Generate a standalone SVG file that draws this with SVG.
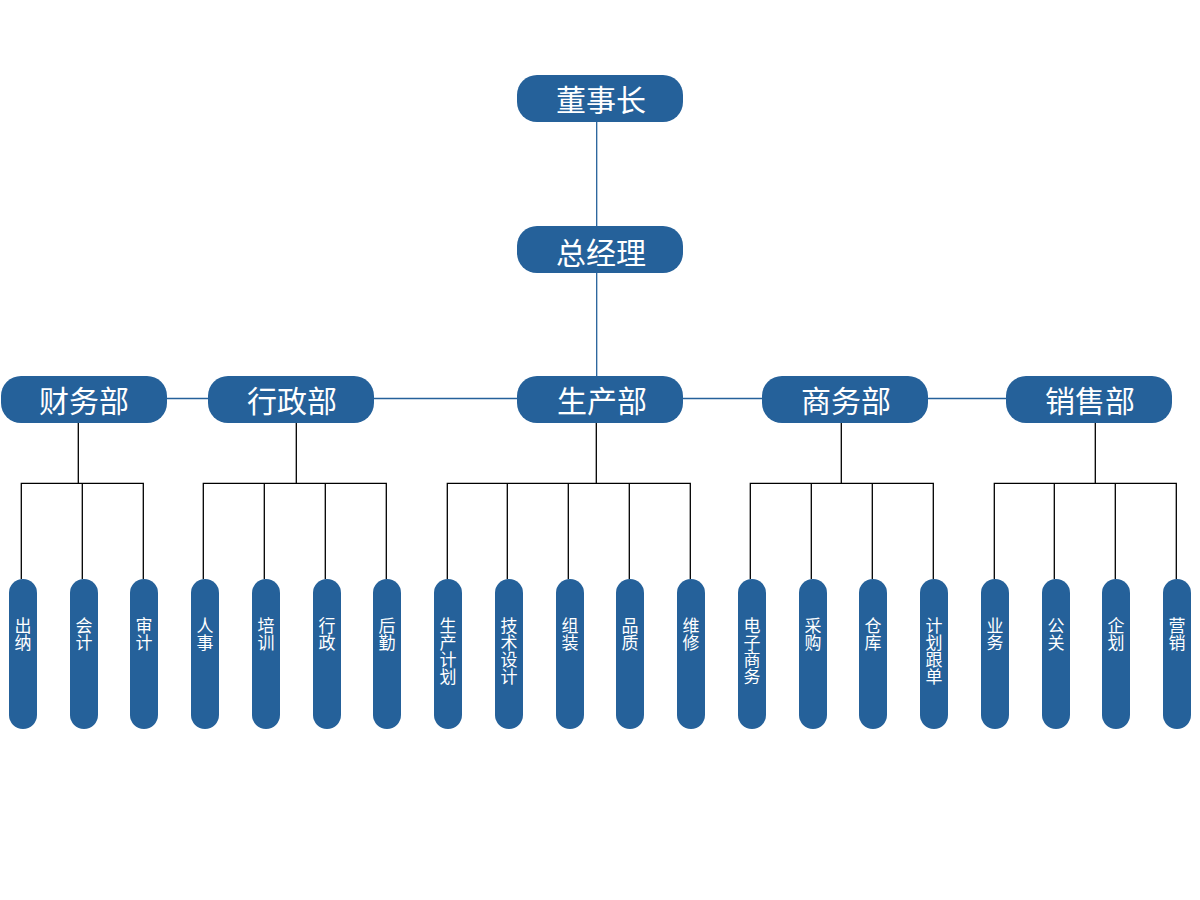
<svg xmlns="http://www.w3.org/2000/svg" width="1200" height="900" viewBox="0 0 1200 900">
<style>
.box{fill:#25619a}
.t1{font-family:"Noto Sans CJK SC","Noto Sans",sans-serif;font-size:30px;fill:#fff;text-anchor:middle}
.t2{font-family:"Noto Sans CJK SC","Noto Sans",sans-serif;font-size:17px;fill:#fff;text-anchor:middle}
.bl{stroke:#25619a;stroke-width:1.3;fill:none}
.k{stroke:#000;stroke-width:1.3;fill:none}
</style>
<rect width="1200" height="900" fill="#fff"/>
<g id="connectors">
<path class="bl" d="M596.7 122V226M596.7 273V376M84 398.5H1089"/>
<path class="k" d="M78.3 423V483.3M21.3 579V483.3H143.3V579M82.3 483.3V579"/>
<path class="k" d="M296.3 423V483.3M203.3 579V483.3H386.3V579M264.3 483.3V579M325.3 483.3V579"/>
<path class="k" d="M596.3 423V483.3M447.3 579V483.3H690.3V579M507.3 483.3V579M568.3 483.3V579M629.3 483.3V579"/>
<path class="k" d="M841.3 423V483.3M750.3 579V483.3H933.3V579M811.3 483.3V579M872.3 483.3V579"/>
<path class="k" d="M1095.3 423V483.3M994.3 579V483.3H1176.3V579M1054.3 483.3V579M1115.3 483.3V579"/>
</g>
<g id="n-dsz"><rect class="box" x="517" y="75" width="166" height="47" rx="20"/><text class="t1" x="601" y="111">董事长</text></g>
<g id="n-zjl"><rect class="box" x="517" y="226" width="166" height="47" rx="20"/><text class="t1" x="601" y="264">总经理</text></g>
<g id="n-cwb"><rect class="box" x="1" y="376" width="166" height="47" rx="20"/><text class="t1" x="84" y="412">财务部</text></g>
<g id="n-xzb"><rect class="box" x="208" y="376" width="166" height="47" rx="20"/><text class="t1" x="292" y="412">行政部</text></g>
<g id="n-scb"><rect class="box" x="517" y="376" width="166" height="47" rx="20"/><text class="t1" x="602" y="412">生产部</text></g>
<g id="n-swb"><rect class="box" x="762" y="376" width="166" height="47" rx="20"/><text class="t1" x="846" y="412">商务部</text></g>
<g id="n-xsb"><rect class="box" x="1006" y="376" width="166" height="47" rx="20"/><text class="t1" x="1090" y="412">销售部</text></g>
<g id="l-cn"><rect class="box" x="9" y="579" width="28" height="150" rx="14"/><text class="t2"><tspan x="23" y="632">出</tspan><tspan x="23" y="649">纳</tspan></text></g>
<g id="l-kj"><rect class="box" x="70" y="579" width="28" height="150" rx="14"/><text class="t2"><tspan x="84" y="632">会</tspan><tspan x="84" y="649">计</tspan></text></g>
<g id="l-sj"><rect class="box" x="130" y="579" width="28" height="150" rx="14"/><text class="t2"><tspan x="144" y="632">审</tspan><tspan x="144" y="649">计</tspan></text></g>
<g id="l-rs"><rect class="box" x="191" y="579" width="28" height="150" rx="14"/><text class="t2"><tspan x="205" y="632">人</tspan><tspan x="205" y="649">事</tspan></text></g>
<g id="l-px"><rect class="box" x="252" y="579" width="28" height="150" rx="14"/><text class="t2"><tspan x="266" y="632">培</tspan><tspan x="266" y="649">训</tspan></text></g>
<g id="l-xz"><rect class="box" x="313" y="579" width="28" height="150" rx="14"/><text class="t2"><tspan x="327" y="632">行</tspan><tspan x="327" y="649">政</tspan></text></g>
<g id="l-hq"><rect class="box" x="373" y="579" width="28" height="150" rx="14"/><text class="t2"><tspan x="387" y="632">后</tspan><tspan x="387" y="649">勤</tspan></text></g>
<g id="l-scjh"><rect class="box" x="434" y="579" width="28" height="150" rx="14"/><text class="t2"><tspan x="448" y="632">生</tspan><tspan x="448" y="649">产</tspan><tspan x="448" y="666">计</tspan><tspan x="448" y="683">划</tspan></text></g>
<g id="l-jssj"><rect class="box" x="495" y="579" width="28" height="150" rx="14"/><text class="t2"><tspan x="509" y="632">技</tspan><tspan x="509" y="649">术</tspan><tspan x="509" y="666">设</tspan><tspan x="509" y="683">计</tspan></text></g>
<g id="l-zz"><rect class="box" x="556" y="579" width="28" height="150" rx="14"/><text class="t2"><tspan x="570" y="632">组</tspan><tspan x="570" y="649">装</tspan></text></g>
<g id="l-pz"><rect class="box" x="616" y="579" width="28" height="150" rx="14"/><text class="t2"><tspan x="630" y="632">品</tspan><tspan x="630" y="649">质</tspan></text></g>
<g id="l-wx"><rect class="box" x="677" y="579" width="28" height="150" rx="14"/><text class="t2"><tspan x="691" y="632">维</tspan><tspan x="691" y="649">修</tspan></text></g>
<g id="l-dzsw"><rect class="box" x="738" y="579" width="28" height="150" rx="14"/><text class="t2"><tspan x="752" y="632">电</tspan><tspan x="752" y="649">子</tspan><tspan x="752" y="666">商</tspan><tspan x="752" y="683">务</tspan></text></g>
<g id="l-cg"><rect class="box" x="799" y="579" width="28" height="150" rx="14"/><text class="t2"><tspan x="813" y="632">采</tspan><tspan x="813" y="649">购</tspan></text></g>
<g id="l-ck"><rect class="box" x="859" y="579" width="28" height="150" rx="14"/><text class="t2"><tspan x="873" y="632">仓</tspan><tspan x="873" y="649">库</tspan></text></g>
<g id="l-jhgd"><rect class="box" x="920" y="579" width="28" height="150" rx="14"/><text class="t2"><tspan x="934" y="632">计</tspan><tspan x="934" y="649">划</tspan><tspan x="934" y="666">跟</tspan><tspan x="934" y="683">单</tspan></text></g>
<g id="l-yw"><rect class="box" x="981" y="579" width="28" height="150" rx="14"/><text class="t2"><tspan x="995" y="632">业</tspan><tspan x="995" y="649">务</tspan></text></g>
<g id="l-gg"><rect class="box" x="1042" y="579" width="28" height="150" rx="14"/><text class="t2"><tspan x="1056" y="632">公</tspan><tspan x="1056" y="649">关</tspan></text></g>
<g id="l-qh"><rect class="box" x="1102" y="579" width="28" height="150" rx="14"/><text class="t2"><tspan x="1116" y="632">企</tspan><tspan x="1116" y="649">划</tspan></text></g>
<g id="l-yx"><rect class="box" x="1163" y="579" width="28" height="150" rx="14"/><text class="t2"><tspan x="1177" y="632">营</tspan><tspan x="1177" y="649">销</tspan></text></g>
</svg>
